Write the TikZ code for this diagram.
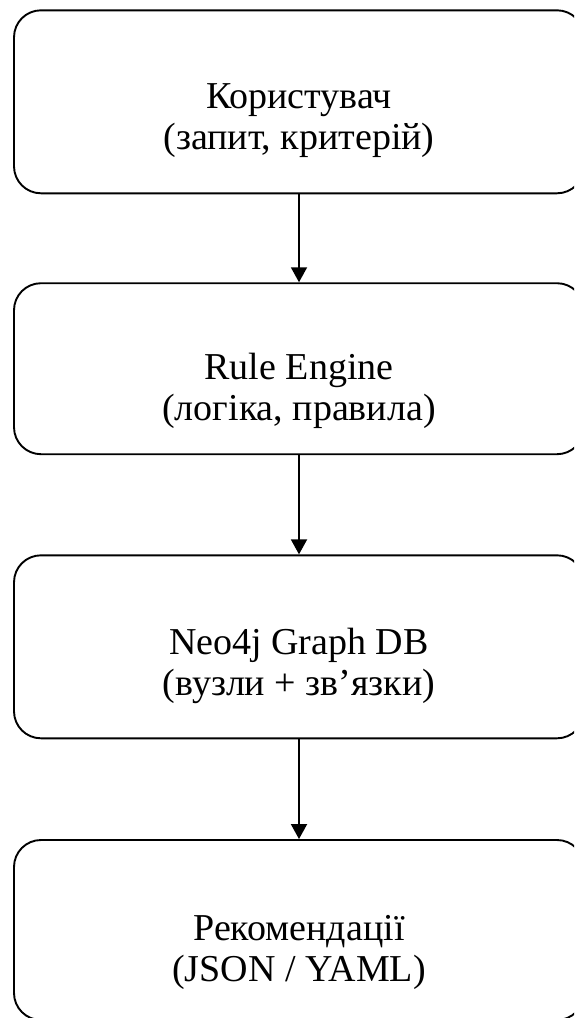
\documentclass[tikz,border=0pt]{standalone}
\usepackage{fontspec}
\setmainfont{Liberation Serif}
\usetikzlibrary{arrows.meta}
\begin{document}
\begin{tikzpicture}[x=1pt,y=1pt,
  box/.style={draw, line width=1.9pt, rounded corners=27pt, minimum width=570pt,
    inner sep=0pt},
  label text/.style={inner sep=0pt, align=center, font=\fontsize{38}{41}\selectfont},
  conn/.style={line width=1.9pt, -{Triangle[length=15pt,width=16pt]}}]
\useasboundingbox (0,0) rectangle (574,-1018);
\clip (0,0) rectangle (574,-1018);
\fill[white] (0,0) rectangle (574,-1018);
\node[box, minimum height=183pt] (b1) at (299,-101.8) {};
\node[box, minimum height=171pt] (b2) at (299,-368.7) {};
\node[box, minimum height=183pt] (b3) at (299,-646.8) {};
\node[box, minimum height=180pt] (b4) at (299,-930) {};
\node[label text] (t1) at (299,-121) {Користувач\\(запит, критерій)};
\node[label text] (t2) at (299,-391) {Rule Engine\\(логіка, правила)};
\node[label text] (t3) at (299,-666) {Neo4j Graph DB\\(вузли + зв’язки)};
\node[label text] (t4) at (299,-952) {Рекомендації\\(JSON / YAML)};
\draw[conn] (b1) -- (b2);
\draw[conn] (b2) -- (b3);
\draw[conn] (b3) -- (b4);
\end{tikzpicture}
\end{document}
